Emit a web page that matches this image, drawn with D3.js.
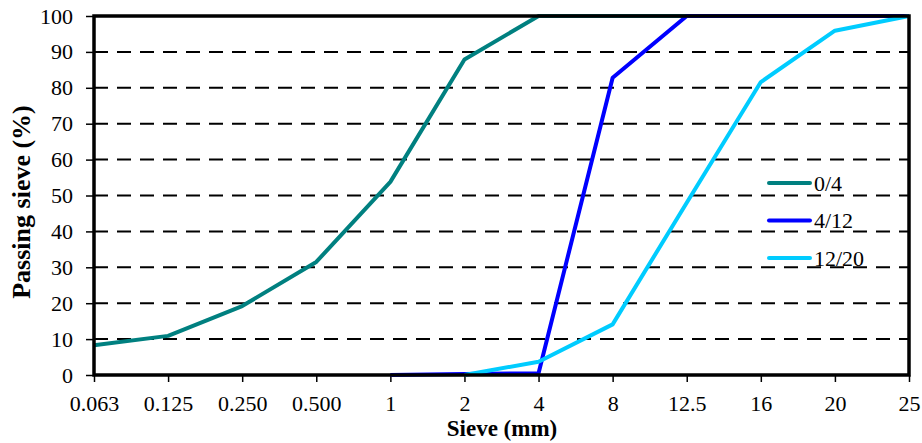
<!DOCTYPE html>
<html>
<head>
<meta charset="utf-8">
<style>
    body { margin: 0; background: #fff; }
    svg text { font-family: "Times New Roman", "Liberation Serif", Times, serif; }
</style>
</head>
<body>
<svg width="922" height="443"></svg>
<script src="https://d3js.org/d3.v7.min.js"></script>
<script>
    // sieve sizes (categorical axis)
    let sieves = ["0.063", "0.125", "0.250", "0.500", "1", "2", "4", "8", "12.5", "16", "20", "25"];
    let yTicks = [0, 10, 20, 30, 40, 50, 60, 70, 80, 90, 100];

    // passing % for each fraction (null = not measured)
    let fine = [8.3, 10.9, 19.2, 31.5, 53.8, 87.9, 100, 100, 100, 100, 100, 100];
    let medium = [null, null, null, null, 0, 0.3, 0.5, 82.8, 100, 100, 100, 100];
    let coarse = [null, null, null, null, null, 0, 3.7, 14.1, 48, 81.6, 95.9, 100];

    let seriesNames = ["0/4", "4/12", "12/20"];
    let seriesColors = ["#008080", "#0000ff", "#00ccff"];
    let seriesValues = [fine, medium, coarse];

    let svg = d3.select("svg");
    let margin = {top: 16, right: 13, bottom: 68, left: 94};
    let width = 922, height = 443;

    let x = d3.scalePoint()
        .domain(sieves)
        .range([margin.left, width - margin.right])
        .padding(0);

    let y = d3.scaleLinear()
        .domain([0, 100])
        .range([height - margin.bottom, margin.top]);

    // dashed grid
    svg.append("g")
        .selectAll("line")
        .data(yTicks.filter(d => d > 0 && d < 100))
        .join("line")
        .attr("x1", margin.left)
        .attr("x2", width - margin.right)
        .attr("y1", d => y(d))
        .attr("y2", d => y(d))
        .style("stroke", "black")
        .style("stroke-width", 2)
        .style("stroke-dasharray", "14,9");

    // axes
    let yAxis = svg.append("g")
        .attr("transform", `translate(${margin.left},0)`)
        .call(d3.axisLeft(y).tickValues(yTicks).tickSize(8).tickPadding(13));

    let xAxis = svg.append("g")
        .attr("transform", `translate(0,${y(0)})`)
        .call(d3.axisBottom(x).tickSize(7).tickPadding(13));

    [yAxis, xAxis].forEach(a => {
        a.attr("font-family", null);
        a.select(".domain").remove();
        a.selectAll("line").style("stroke", "black").style("stroke-width", 1.5);
        a.selectAll("text")
            .style("font-size", "22px")
            .style("fill", "black");
    });

    // lines
    let line = d3.line()
        .defined(d => d.v !== null)
        .x(d => x(d.s))
        .y(d => y(d.v));

    seriesValues.forEach((vals, i) => {
        svg.append("path")
            .datum(vals.map((v, j) => ({s: sieves[j], v: v})))
            .attr("d", line)
            .style("fill", "none")
            .style("stroke", seriesColors[i])
            .style("stroke-width", 4)
            .style("stroke-linejoin", "round");
    });

    // frame
    svg.append("rect")
        .attr("x", margin.left)
        .attr("y", margin.top)
        .attr("width", width - margin.right - margin.left)
        .attr("height", y(0) - margin.top)
        .style("fill", "none")
        .style("stroke", "black")
        .style("stroke-width", 3.5);

    // legend
    let legend = svg.append("g")
        .selectAll("g")
        .data(seriesNames)
        .join("g")
        .attr("transform", (d, i) => `translate(769,${183 + i * 37.5})`);

    legend.append("line")
        .attr("x1", 0).attr("x2", 41)
        .style("stroke", (d, i) => seriesColors[i])
        .style("stroke-width", 4)
        .style("stroke-linecap", "round");

    legend.append("text")
        .attr("x", 45)
        .attr("dy", "0.35em")
        .style("font-size", "22px")
        .text(d => d);

    // axis titles
    svg.append("text")
        .attr("x", 502)
        .attr("y", 436)
        .attr("text-anchor", "middle")
        .style("font-weight", "bold")
        .style("font-size", "23px")
        .text("Sieve (mm)");

    svg.append("text")
        .attr("transform", `translate(30,202) rotate(-90)`)
        .attr("text-anchor", "middle")
        .style("font-weight", "bold")
        .style("font-size", "26px")
        .text("Passing sieve (%)");
</script>
</body>
</html>
